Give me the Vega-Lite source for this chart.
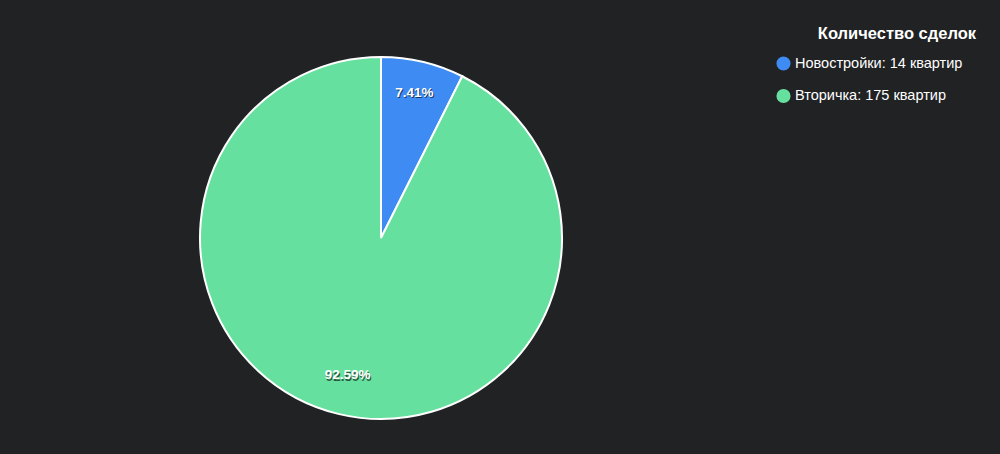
{
  "$schema": "https://vega.github.io/schema/vega-lite/v6.json",
  "width": 762,
  "height": 432,
  "padding": {"left": 0, "top": 22, "right": 238, "bottom": 0},
  "autosize": {"type": "none"},
  "background": "#212224",
  "config": {"view": {"stroke": null}, "font": "Liberation Sans"},
  "title": {
    "text": "Количество сделок",
    "anchor": "end",
    "frame": "group",
    "orient": "top",
    "color": "#ffffff",
    "fontSize": 16.5,
    "fontWeight": "bold",
    "baseline": "middle",
    "dx": 214,
    "dy": 28,
    "offset": 0
  },
  "data": {
    "values": [
      {"type": "Новостройки: 14 квартир", "count": 14, "pct": "7.41%", "idx": 1},
      {"type": "Вторичка: 175 квартир", "count": 175, "pct": "92.59%", "idx": 2}
    ]
  },
  "encoding": {
    "theta": {"field": "count", "type": "quantitative", "stack": true},
    "order": {"field": "idx", "type": "quantitative", "sort": "ascending"},
    "color": {
      "field": "type",
      "type": "nominal",
      "sort": null,
      "scale": {
        "domain": ["Новостройки: 14 квартир", "Вторичка: 175 квартир"],
        "range": ["#3d8bf3", "#66e09e"]
      },
      "legend": {
        "title": null,
        "orient": "none",
        "legendX": 776,
        "legendY": 34,
        "labelColor": "#ffffff",
        "labelFontSize": 14.5,
        "labelOffset": 4,
        "symbolType": "circle",
        "symbolSize": 200,
        "symbolStrokeWidth": 0,
        "rowPadding": 16.5,
        "labelLimit": 300
      }
    }
  },
  "layer": [
    {"mark": {"type": "arc", "outerRadius": 181, "stroke": "#ffffff", "strokeWidth": 2}},
    {
      "mark": {"type": "text", "radius": 145, "fontSize": 13.5, "fontWeight": "bold", "opacity": 0.6, "dx": 1, "dy": -2.5},
      "encoding": {"text": {"field": "pct"}, "color": {"value": "#000000"}}
    },
    {
      "mark": {"type": "text", "radius": 145, "fontSize": 13.5, "fontWeight": "bold", "dy": -4},
      "encoding": {"text": {"field": "pct"}, "color": {"value": "#ffffff"}}
    }
  ]
}
